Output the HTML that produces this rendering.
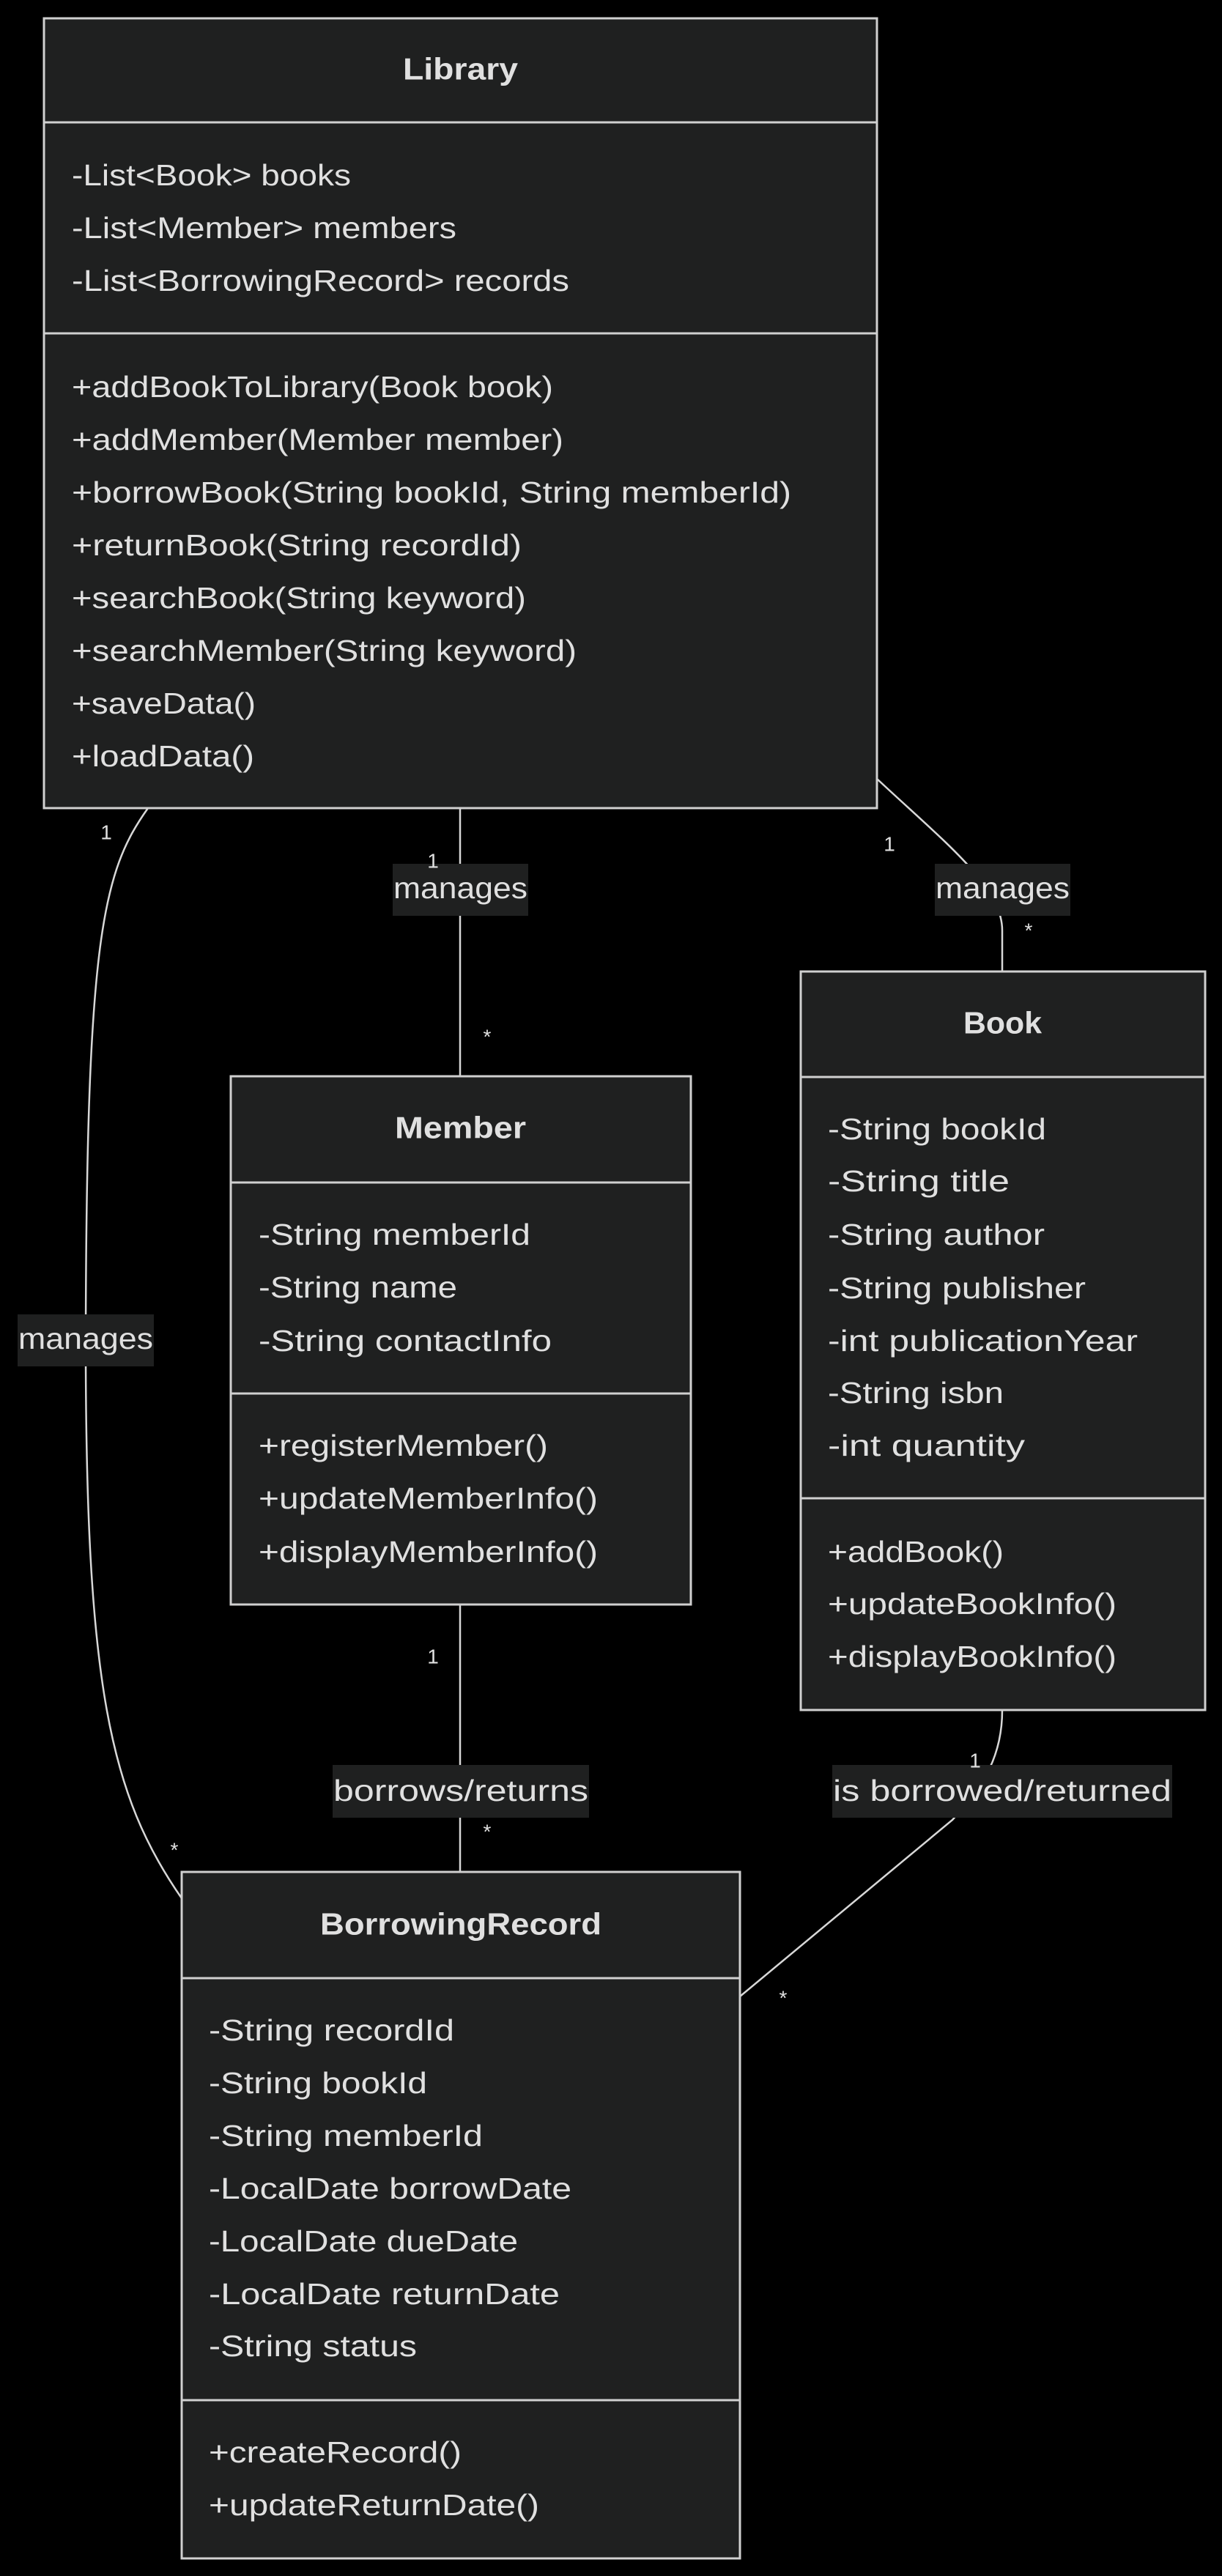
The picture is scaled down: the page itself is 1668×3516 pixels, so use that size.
<!DOCTYPE html>
<html><head><meta charset="utf-8"><style>
html,body{margin:0;padding:0;background:#000;}
svg{display:block}
text{font-family:"Liberation Sans",sans-serif;fill:#e0e0e0;font-size:41px;dominant-baseline:central}
.t{font-weight:bold;font-size:42px}
.m{font-size:28px}
</style></head><body>
<svg width="1668" height="3516" viewBox="0 0 1668 3516" xmlns="http://www.w3.org/2000/svg">
<rect width="1668" height="3516" fill="#000"/>
<g fill="none" stroke="#d8d8d8" stroke-width="2.5">
<path d="M628,1103 L628,1469"/>
<path d="M1197,1063 C1290,1150 1368,1210 1368,1270 L1368,1326"/>
<path d="M202,1103 C140,1190 118,1280 117,1830 C117,2300 150,2450 248,2591"/>
<path d="M628,2190 L628,2555"/>
<path d="M1368,2334 C1368,2400 1340,2440 1300,2484 L1010,2725"/>
</g>
<g fill="#1f2020" stroke="#d0d0d0" stroke-width="3">
<rect x="60" y="25" width="1137" height="1078"/>
<rect x="315" y="1469" width="628" height="721"/>
<rect x="1093" y="1326" width="552" height="1008"/>
<rect x="248" y="2555" width="762" height="937"/>
</g>
<g stroke="#d0d0d0" stroke-width="3">
<line x1="60" y1="167" x2="1197" y2="167"/><line x1="60" y1="455" x2="1197" y2="455"/>
<line x1="315" y1="1614" x2="943" y2="1614"/><line x1="315" y1="1902" x2="943" y2="1902"/>
<line x1="1093" y1="1470" x2="1645" y2="1470"/><line x1="1093" y1="2045" x2="1645" y2="2045"/>
<line x1="248" y1="2700" x2="1010" y2="2700"/><line x1="248" y1="3276" x2="1010" y2="3276"/>
</g>
<g fill="#1f2020">
<rect x="536" y="1179" width="185" height="71"/>
<rect x="1276" y="1179" width="185" height="71"/>
<rect x="24" y="1794" width="186" height="71"/>
<rect x="454" y="2409" width="350" height="72"/>
<rect x="1136" y="2409" width="464" height="72"/>
</g>
<g>
<text class="t" x="550" y="94" textLength="157" lengthAdjust="spacingAndGlyphs">Library</text>
<text x="98" y="239" textLength="381" lengthAdjust="spacingAndGlyphs">-List&lt;Book&gt; books</text>
<text x="98" y="311" textLength="525" lengthAdjust="spacingAndGlyphs">-List&lt;Member&gt; members</text>
<text x="98" y="383" textLength="679" lengthAdjust="spacingAndGlyphs">-List&lt;BorrowingRecord&gt; records</text>
<text x="98" y="528" textLength="657" lengthAdjust="spacingAndGlyphs">+addBookToLibrary(Book book)</text>
<text x="98" y="600" textLength="671" lengthAdjust="spacingAndGlyphs">+addMember(Member member)</text>
<text x="98" y="672" textLength="982" lengthAdjust="spacingAndGlyphs">+borrowBook(String bookId, String memberId)</text>
<text x="98" y="744" textLength="614" lengthAdjust="spacingAndGlyphs">+returnBook(String recordId)</text>
<text x="98" y="816" textLength="620" lengthAdjust="spacingAndGlyphs">+searchBook(String keyword)</text>
<text x="98" y="888" textLength="689" lengthAdjust="spacingAndGlyphs">+searchMember(String keyword)</text>
<text x="98" y="960" textLength="251" lengthAdjust="spacingAndGlyphs">+saveData()</text>
<text x="98" y="1032" textLength="249" lengthAdjust="spacingAndGlyphs">+loadData()</text>

<text class="t" x="539" y="1539" textLength="179" lengthAdjust="spacingAndGlyphs">Member</text>
<text x="353" y="1685" textLength="371" lengthAdjust="spacingAndGlyphs">-String memberId</text>
<text x="353" y="1757" textLength="271" lengthAdjust="spacingAndGlyphs">-String name</text>
<text x="353" y="1830" textLength="400" lengthAdjust="spacingAndGlyphs">-String contactInfo</text>
<text x="353" y="1973" textLength="395" lengthAdjust="spacingAndGlyphs">+registerMember()</text>
<text x="353" y="2045" textLength="463" lengthAdjust="spacingAndGlyphs">+updateMemberInfo()</text>
<text x="353" y="2118" textLength="463" lengthAdjust="spacingAndGlyphs">+displayMemberInfo()</text>

<text class="t" x="1315" y="1396" textLength="107" lengthAdjust="spacingAndGlyphs">Book</text>
<text x="1130" y="1541" textLength="298" lengthAdjust="spacingAndGlyphs">-String bookId</text>
<text x="1130" y="1612" textLength="248" lengthAdjust="spacingAndGlyphs">-String title</text>
<text x="1130" y="1685" textLength="296" lengthAdjust="spacingAndGlyphs">-String author</text>
<text x="1130" y="1758" textLength="352" lengthAdjust="spacingAndGlyphs">-String publisher</text>
<text x="1130" y="1830" textLength="423" lengthAdjust="spacingAndGlyphs">-int publicationYear</text>
<text x="1130" y="1901" textLength="240" lengthAdjust="spacingAndGlyphs">-String isbn</text>
<text x="1130" y="1973" textLength="269" lengthAdjust="spacingAndGlyphs">-int quantity</text>
<text x="1130" y="2118" textLength="240" lengthAdjust="spacingAndGlyphs">+addBook()</text>
<text x="1130" y="2189" textLength="394" lengthAdjust="spacingAndGlyphs">+updateBookInfo()</text>
<text x="1130" y="2261" textLength="394" lengthAdjust="spacingAndGlyphs">+displayBookInfo()</text>

<text class="t" x="437" y="2626" textLength="384" lengthAdjust="spacingAndGlyphs">BorrowingRecord</text>
<text x="285" y="2771" textLength="335" lengthAdjust="spacingAndGlyphs">-String recordId</text>
<text x="285" y="2843" textLength="298" lengthAdjust="spacingAndGlyphs">-String bookId</text>
<text x="285" y="2915" textLength="374" lengthAdjust="spacingAndGlyphs">-String memberId</text>
<text x="285" y="2987" textLength="495" lengthAdjust="spacingAndGlyphs">-LocalDate borrowDate</text>
<text x="285" y="3059" textLength="422" lengthAdjust="spacingAndGlyphs">-LocalDate dueDate</text>
<text x="285" y="3131" textLength="479" lengthAdjust="spacingAndGlyphs">-LocalDate returnDate</text>
<text x="285" y="3202" textLength="284" lengthAdjust="spacingAndGlyphs">-String status</text>
<text x="285" y="3347" textLength="345" lengthAdjust="spacingAndGlyphs">+createRecord()</text>
<text x="285" y="3419" textLength="451" lengthAdjust="spacingAndGlyphs">+updateReturnDate()</text>

<text x="537" y="1212" textLength="183" lengthAdjust="spacingAndGlyphs">manages</text>
<text x="1277" y="1212" textLength="183" lengthAdjust="spacingAndGlyphs">manages</text>
<text x="25" y="1827" textLength="184" lengthAdjust="spacingAndGlyphs">manages</text>
<text x="455" y="2444" textLength="348" lengthAdjust="spacingAndGlyphs">borrows/returns</text>
<text x="1137" y="2444" textLength="462" lengthAdjust="spacingAndGlyphs">is borrowed/returned</text>
</g>
<g>
<text class="m" x="591" y="1175" text-anchor="middle">1</text>
<text class="m" x="665" y="1415" text-anchor="middle">*</text>
<text class="m" x="1214" y="1152" text-anchor="middle">1</text>
<text class="m" x="1404" y="1270" text-anchor="middle">*</text>
<text class="m" x="145" y="1136" text-anchor="middle">1</text>
<text class="m" x="238" y="2525" text-anchor="middle">*</text>
<text class="m" x="591" y="2261" text-anchor="middle">1</text>
<text class="m" x="665" y="2500" text-anchor="middle">*</text>
<text class="m" x="1331" y="2403" text-anchor="middle">1</text>
<text class="m" x="1069" y="2727" text-anchor="middle">*</text>
</g>
</svg>
</body></html>
